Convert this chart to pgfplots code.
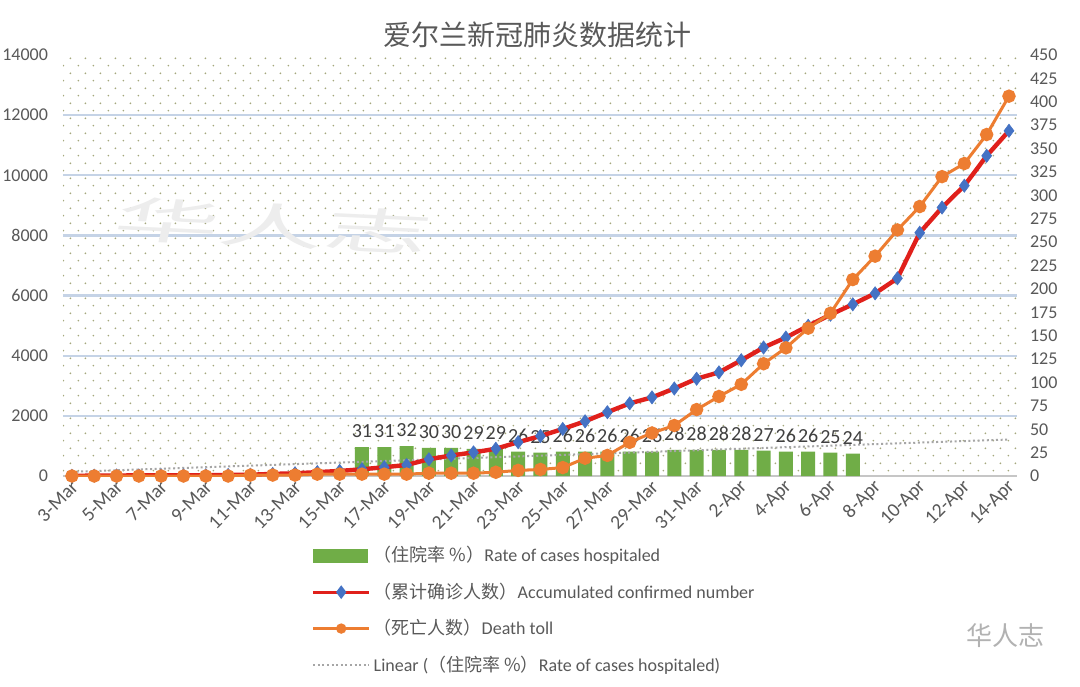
\documentclass[border=0pt]{standalone}
\usepackage{pgfplots}
\pgfplotsset{compat=1.18}
\usepackage{pgfplotstable}
\usepackage{fontspec}
\setmainfont{Carlito}
\newfontfamily\cjk{Noto Sans CJK SC}
\usetikzlibrary{patterns}
\definecolor{axgray}{HTML}{595959}
\definecolor{lblgray}{HTML}{404040}
\definecolor{barg}{HTML}{70AD47}
\definecolor{lred}{HTML}{E0201B}
\definecolor{dblue}{HTML}{4472C4}
\definecolor{dorange}{HTML}{ED7D31}
\definecolor{gridb}{HTML}{C5D3E6}
\definecolor{dotc}{RGB}{165,168,125}
\definecolor{trendc}{HTML}{A6A6A6}

\pgfdeclarepatternformonly{mydots}{\pgfqpoint{0pt}{0pt}}{\pgfqpoint{7.5pt}{7.6pt}}{\pgfqpoint{7.5pt}{7.6pt}}{%
 \pgfpathcircle{\pgfqpoint{1.8pt}{1.8pt}}{0.5pt}%
 \pgfpathcircle{\pgfqpoint{5.55pt}{5.6pt}}{0.5pt}%
 \pgfusepath{fill}}

% x index: 0 = 3-Mar ... 42 = 14-Apr
\pgfplotstableread{
x conf death
0 6 0
1 13 0
2 18 0
3 19 0
4 21 0
5 21 0
6 24 0
7 34 0
8 43 1
9 70 1
10 90 1
11 129 2
12 169 2
13 223 2
14 292 2
15 366 2
16 557 3
17 683 3
18 785 3
19 906 4
20 1125 6
21 1329 7
22 1564 9
23 1819 19
24 2121 22
25 2415 36
26 2615 46
27 2910 54
28 3235 71
29 3447 85
30 3849 98
31 4273 120
32 4604 137
33 4994 158
34 5364 174
35 5709 210
36 6074 235
37 6574 263
38 8089 288
39 8928 320
40 9655 334
41 10647 365
42 11479 406
}\cases

\pgfplotstableread{
x rate
13 31
14 31
15 32
16 30
17 30
18 29
19 29
20 26
21 25
22 26
23 26
24 26
25 26
26 26
27 28
28 28
29 28
30 28
31 27
32 26
33 26
34 25
35 24
}\hosp

\pgfplotsset{base/.style={width=477pt,height=210.5pt,scale only axis,
  at={(0,0)},anchor=south west,xmin=-0.4,xmax=42.36,
  major tick length=0pt,
  scaled y ticks=false,
  tick label style={font=\fontsize{9}{10}\selectfont, text=axgray},
  /pgf/number format/1000 sep={},
  /pgf/number format/assume math mode=true}}

\begin{document}
\begin{tikzpicture}
\useasboundingbox[fill=white] (-31.5pt,-105pt) rectangle (508.5pt,238pt);

% base axis: background, grid, left ticks, x labels
\begin{axis}[base, ymin=0, ymax=14000, ytick={0,2000,...,14000},
  axis background/.style={pattern=mydots, pattern color=dotc},
  axis x line*=bottom, axis y line*=left,
  y axis line style={draw=none},
  x axis line style={draw=gray!45, line width=0.8pt},
  extra y ticks={2000,4000,...,12000}, extra y tick labels={},
  extra y tick style={grid=major, major grid style={gridb, line width=1.2pt}},
  xtick={0,2,...,42},
  xticklabels={3-Mar,5-Mar,7-Mar,9-Mar,11-Mar,13-Mar,15-Mar,17-Mar,19-Mar,21-Mar,23-Mar,25-Mar,27-Mar,29-Mar,31-Mar,2-Apr,4-Apr,6-Apr,8-Apr,10-Apr,12-Apr,14-Apr},
  xticklabel style={font=\fontsize{9.8}{11}\selectfont, xshift=4pt, yshift=-1.5pt, rotate=45, anchor=east},
  yticklabel style={xshift=-4pt}]
\end{axis}

% right axis: bars + trend
\begin{axis}[base, ymin=0, ymax=450, ytick={0,25,...,450},
  axis x line=none, axis y line*=right, y axis line style={draw=none},
  yticklabel style={xshift=3pt}]
\addplot[ybar, bar width=7pt, fill=barg, draw=none,
  nodes near coords,
  every node near coord/.append style={font=\fontsize{10}{11}\selectfont, text=lblgray, yshift=1pt}]
  table[x=x,y=rate]{\hosp};
\addplot[trendc, line width=1pt, dash pattern=on 1pt off 1.3pt] coordinates {(0,4.5) (42,39)};
\end{axis}

% left scale: confirmed
\begin{axis}[base, ymin=0, ymax=14000, hide axis]
\addplot[lred, line width=2.2pt, mark=diamond*, mark size=3.3pt,
  mark options={fill=dblue, draw=dblue, line width=0.3pt}]
  table[x=x,y=conf]{\cases};
\end{axis}

% right scale: deaths + legend
\begin{axis}[base, ymin=0, ymax=450, hide axis,
  legend image code/.code={\draw[#1, mark repeat=2, mark phase=2] plot coordinates {(0pt,0pt) (14pt,0pt) (28pt,0pt)};},
  legend cell align=left,
  legend style={at={(0.254,-0.15)}, anchor=north west, draw=none, fill=none,
    font=\fontsize{9}{10}\selectfont, text=axgray, row sep=6pt,
    nodes={inner sep=1.5pt}}]
\addlegendimage{legend image code/.code={\fill[barg] (0pt,-3.2pt) rectangle (27pt,3.2pt);}}
\addlegendentry{{\cjk （住院率 \%）}Rate of cases hospitaled}
\addlegendimage{lred, line width=1.5pt, mark=diamond*, mark size=2.2pt, mark options={fill=dblue, draw=dblue}}
\addlegendentry{{\cjk （累计确诊人数）}Accumulated confirmed number}
\addplot[dorange, line width=1.5pt, mark=*, mark size=2.6pt,
  mark options={fill=dorange, draw=dorange},
  legend image post style={mark size=1.8pt}]
  table[x=x,y=death]{\cases};
\addlegendentry{{\cjk （死亡人数）}Death toll}
\addlegendimage{trendc, line width=1pt, dash pattern=on 1pt off 1.3pt}
\addlegendentry{Linear ({\cjk （住院率 \%）}Rate of cases hospitaled)}
\end{axis}

\node[font=\cjk\fontsize{14}{16}\selectfont, text=axgray] at (237pt,220.5pt) {爱尔兰新冠肺炎数据统计};
\node[font=\cjk\fontsize{24}{26}\selectfont, text=gray!14, xscale=2.2, rotate=-6] at (105pt,125pt) {华人志};
\node[font=\cjk\fontsize{13}{15}\selectfont, text=gray!60] at (471pt,-80pt) {华人志};
\end{tikzpicture}
\end{document}
